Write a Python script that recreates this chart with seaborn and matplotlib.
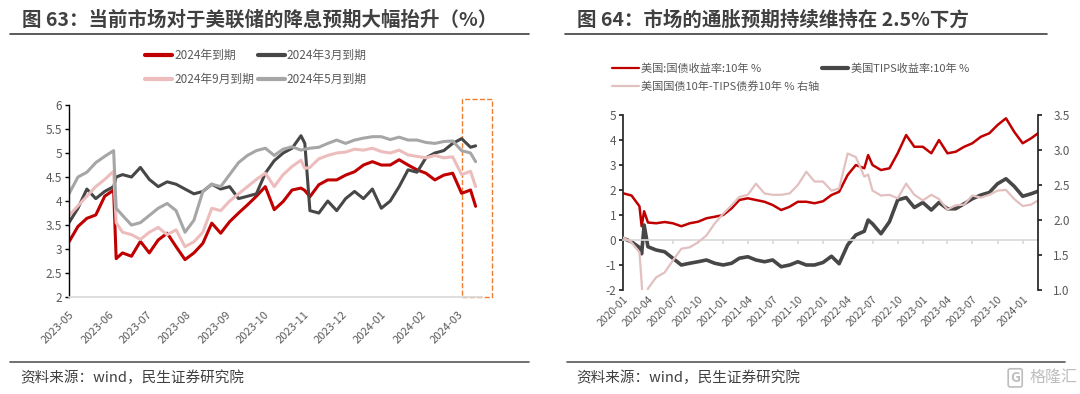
import pandas as pd
import seaborn as sns
import matplotlib.pyplot as plt
import matplotlib.dates as mdates
import matplotlib.transforms as mtransforms
from matplotlib.lines import Line2D
from matplotlib.patches import Rectangle
from matplotlib.ticker import MultipleLocator, FormatStrFormatter

# --- figure 63 data (weekly reads)
dates63 = ['2023-05-01', '2023-05-08', '2023-05-15', '2023-05-22', '2023-05-29', '2023-06-05',
           '2023-06-07', '2023-06-12', '2023-06-19', '2023-06-26', '2023-07-03', '2023-07-10',
           '2023-07-17', '2023-07-24', '2023-07-31', '2023-08-07', '2023-08-14', '2023-08-21',
           '2023-08-28', '2023-09-04', '2023-09-11', '2023-09-18', '2023-09-25', '2023-10-02',
           '2023-10-09', '2023-10-16', '2023-10-23', '2023-10-30', '2023-11-02', '2023-11-06',
           '2023-11-13', '2023-11-20', '2023-11-27', '2023-12-04', '2023-12-11', '2023-12-18',
           '2023-12-25', '2024-01-01', '2024-01-08', '2024-01-15', '2024-01-22', '2024-01-29',
           '2024-02-05', '2024-02-12', '2024-02-19', '2024-02-26', '2024-03-04', '2024-03-11',
           '2024-03-15']
exp_2024 = [3.15, 3.47, 3.64, 3.71, 4.10, 4.23, 2.80, 2.92, 2.85, 3.16, 2.92, 3.19, 3.33, 3.05,
            2.78, 2.92, 3.12, 3.54, 3.33, 3.57, 3.75, 3.92, 4.10, 4.30, 3.82, 3.99, 4.23, 4.27,
            4.22, 4.09, 4.34, 4.44, 4.44, 4.54, 4.61, 4.75, 4.82, 4.75, 4.75, 4.86, 4.75, 4.65,
            4.58, 4.44, 4.54, 4.58, 4.16, 4.23, 3.89]
exp_2403 = [3.55, 3.85, 4.25, 4.05, 4.20, 4.30, 4.50, 4.55, 4.50, 4.70, 4.45, 4.30, 4.40, 4.35,
            4.25, 4.15, 4.20, 4.35, 4.25, 4.30, 4.05, 4.10, 4.15, 4.58, 4.84, 5.00, 5.10, 5.36,
            5.20, 3.80, 3.75, 4.00, 3.80, 4.05, 4.20, 4.05, 4.25, 3.85, 4.00, 4.30, 4.65, 4.60,
            4.90, 5.00, 5.05, 5.20, 5.30, 5.12, 5.15]
exp_2409 = [3.70, 3.90, 4.10, 4.30, 4.45, 4.62, 3.55, 3.35, 3.30, 3.20, 3.35, 3.45, 3.30, 3.40,
            3.05, 3.15, 3.35, 3.85, 3.80, 4.00, 4.15, 4.30, 4.45, 4.58, 4.30, 4.55, 4.72, 4.85,
            4.68, 4.70, 4.88, 4.95, 5.00, 5.02, 5.08, 5.06, 5.10, 5.03, 5.00, 5.06, 4.96, 4.93,
            4.90, 4.95, 4.90, 4.92, 4.55, 4.62, 4.30]
exp_2405 = [4.15, 4.50, 4.60, 4.80, 4.93, 5.05, 3.85, 3.70, 3.50, 3.55, 3.70, 3.85, 3.95, 3.80,
            3.35, 3.60, 4.20, 4.35, 4.30, 4.55, 4.80, 4.95, 5.05, 5.10, 4.95, 5.08, 5.13, 5.06,
            5.08, 5.10, 5.12, 5.20, 5.27, 5.20, 5.27, 5.31, 5.34, 5.34, 5.28, 5.33, 5.27, 5.27,
            5.22, 5.20, 5.24, 5.25, 5.05, 5.00, 4.82]
labels63 = ['2024年到期', '2024年3月到期', '2024年9月到期', '2024年5月到期']
highlight63 = ('2024-03-04', '2024-03-28')

# --- figure 64 data (monthly reads)
dates64 = ['2020-01-01', '2020-02-01', '2020-03-01', '2020-03-09', '2020-03-18', '2020-04-01',
           '2020-05-01', '2020-06-01', '2020-07-01', '2020-08-01', '2020-09-01', '2020-10-01',
           '2020-11-01', '2020-12-01', '2021-01-01', '2021-02-01', '2021-03-01', '2021-04-01',
           '2021-05-01', '2021-06-01', '2021-07-01', '2021-08-01', '2021-09-01', '2021-10-01',
           '2021-11-01', '2021-12-01', '2022-01-01', '2022-02-01', '2022-03-01', '2022-04-01',
           '2022-05-01', '2022-06-01', '2022-06-15', '2022-07-01', '2022-08-01', '2022-09-01',
           '2022-10-01', '2022-11-01', '2022-12-01', '2023-01-01', '2023-02-01', '2023-03-01',
           '2023-04-01', '2023-05-01', '2023-06-01', '2023-07-01', '2023-08-01', '2023-09-01',
           '2023-10-01', '2023-11-01', '2023-12-01', '2024-01-01', '2024-02-01', '2024-02-26']
ust10 = [1.87, 1.78, 1.35, 0.55, 1.15, 0.70, 0.67, 0.72, 0.67, 0.55, 0.67, 0.73, 0.87, 0.93,
         1.00, 1.27, 1.60, 1.67, 1.60, 1.53, 1.40, 1.20, 1.33, 1.53, 1.53, 1.47, 1.55, 1.80,
         1.93, 2.60, 3.00, 2.87, 3.40, 3.00, 2.80, 2.87, 3.47, 4.20, 3.73, 3.73, 3.47, 4.00,
         3.47, 3.53, 3.73, 3.87, 4.13, 4.27, 4.60, 4.87, 4.33, 3.87, 4.07, 4.27]
tips10 = [0.07, -0.07, -0.30, -0.55, 0.60, -0.27, -0.40, -0.47, -0.73, -1.00, -0.93, -0.87,
          -0.80, -0.93, -1.00, -0.93, -0.73, -0.67, -0.80, -0.87, -0.80, -1.07, -1.00, -0.87,
          -1.00, -1.00, -0.90, -0.65, -0.95, -0.20, 0.20, 0.35, 0.80, 0.65, 0.25, 0.73, 1.60,
          1.70, 1.30, 1.50, 1.20, 1.50, 1.25, 1.25, 1.45, 1.65, 1.80, 1.90, 2.25, 2.45, 2.15,
          1.75, 1.85, 1.95]
breakeven = [1.75, 1.68, 1.54, 1.10, 0.55, 1.02, 1.18, 1.25, 1.42, 1.59, 1.61, 1.68, 1.78,
             1.95, 2.09, 2.21, 2.33, 2.36, 2.52, 2.38, 2.36, 2.36, 2.38, 2.50, 2.69, 2.55, 2.55,
             2.42, 2.45, 2.95, 2.90, 2.62, 2.65, 2.42, 2.35, 2.36, 2.31, 2.52, 2.36, 2.28, 2.36,
             2.30, 2.15, 2.21, 2.22, 2.35, 2.32, 2.36, 2.42, 2.43, 2.30, 2.20, 2.22, 2.28]
labels64 = ['美国:国债收益率:10年 %', '美国TIPS收益率:10年 %', '美国国债10年-TIPS债券10年 % 右轴']

RED = '#C00000'
DARK = '#474747'
PINK = '#EDBDBD'
LGRAY = '#A6A6A6'
TXT = '#595959'

sns.set_theme(style='white')
plt.rcParams['font.family'] = ['Noto Sans CJK SC', 'DejaVu Sans']
plt.rcParams['axes.unicode_minus'] = False

fig = plt.figure(figsize=(10.8, 3.94), dpi=100)
ax1 = fig.add_axes([0.0639, 0.246, 0.3824, 0.4875])
ax2 = fig.add_axes([0.5769, 0.264, 0.3842, 0.444])
axr = ax2.twinx()

# ---------------- left chart
df63 = pd.DataFrame({'date': pd.to_datetime(dates63), labels63[0]: exp_2024,
                     labels63[1]: exp_2403, labels63[2]: exp_2409, labels63[3]: exp_2405})
for lab, col in zip(labels63, [RED, DARK, PINK, LGRAY]):
    sns.lineplot(data=df63, x='date', y=lab, ax=ax1, color=col, lw=2.2)

ax1.set_ylim(2, 6)
ax1.yaxis.set_major_locator(MultipleLocator(0.5))
ax1.yaxis.set_major_formatter(FormatStrFormatter('%g'))
ax1.set_xlim(pd.Timestamp('2023-05-01'), pd.Timestamp('2024-03-20'))
ax1.xaxis.set_major_locator(mdates.MonthLocator())
ax1.xaxis.set_major_formatter(mdates.DateFormatter('%Y-%m'))
ax1.set_xlabel('')
ax1.set_ylabel('')
for s in ['top', 'right']:
    ax1.spines[s].set_visible(False)
ax1.spines['left'].set_color('#000000')
ax1.spines['left'].set_linewidth(1)
ax1.spines['bottom'].set_color('#D9D9D9')
ax1.tick_params(axis='y', left=True, length=3, width=1, color='#000000', labelsize=8.5,
                labelcolor=TXT, pad=2)
ax1.tick_params(axis='x', bottom=False, labelsize=8, labelcolor=TXT, pad=3)
for t in ax1.get_xticklabels():
    t.set_rotation(45)
    t.set_ha('right')
    t.set_rotation_mode('anchor')

# dashed highlight box over the latest weeks
hx0 = mdates.date2num(pd.Timestamp(highlight63[0]))
hx1 = mdates.date2num(pd.Timestamp(highlight63[1]))
trans = mtransforms.blended_transform_factory(ax1.transData, ax1.transAxes)
ax1.add_patch(Rectangle((hx0, 0), hx1 - hx0, 1.031, transform=trans, fill=False,
                        ec='#ED7D31', ls='--', lw=1, clip_on=False))

h63 = [Line2D([], [], color=c, lw=3) for c in [RED, PINK, DARK, LGRAY]]
fig.legend(h63, [labels63[0], labels63[2], labels63[1], labels63[3]], ncol=2, loc='center',
           bbox_to_anchor=(0.237, 0.828), frameon=False, fontsize=8.5, labelcolor=TXT,
           handlelength=2.3, handletextpad=0.15, columnspacing=0.3, labelspacing=0.95)

# ---------------- right chart
df64 = pd.DataFrame({'date': pd.to_datetime(dates64), 'ust': ust10, 'tips': tips10,
                     'bei': breakeven})
sns.lineplot(data=df64, x='date', y='ust', ax=ax2, color=RED, lw=1.8)
sns.lineplot(data=df64, x='date', y='tips', ax=ax2, color=DARK, lw=2.6)
sns.lineplot(data=df64, x='date', y='bei', ax=axr, color='#E2C0C0', lw=1.6)

ax2.set_ylim(-2, 5)
ax2.yaxis.set_major_locator(MultipleLocator(1))
axr.set_ylim(1.0, 3.5)
axr.yaxis.set_major_locator(MultipleLocator(0.5))
axr.yaxis.set_major_formatter(FormatStrFormatter('%.1f'))
ax2.set_xlim(pd.Timestamp('2020-01-01'), pd.Timestamp('2024-02-26'))
ax2.xaxis.set_major_locator(mdates.MonthLocator(bymonth=[1, 4, 7, 10]))
ax2.xaxis.set_major_formatter(mdates.DateFormatter('%Y-%m'))
for a in [ax2, axr]:
    a.set_xlabel('')
    a.set_ylabel('')
    a.spines['top'].set_visible(False)
ax2.spines['right'].set_visible(False)
axr.spines['left'].set_visible(False)
axr.spines['bottom'].set_visible(False)
ax2.spines['left'].set_color('#262626')
axr.spines['right'].set_color('#262626')
ax2.spines['bottom'].set_position(('data', 0))
ax2.spines['bottom'].set_color('#D9D9D9')
ax2.tick_params(axis='y', left=True, length=3, color='#262626', labelsize=8.5,
                labelcolor=TXT, pad=2)
axr.tick_params(axis='y', right=True, length=3, color='#262626', labelsize=8.5,
                labelcolor=TXT, pad=8)
ax2.tick_params(axis='x', bottom=True, length=3, color='#D9D9D9', labelsize=7.5,
                labelcolor=TXT, pad=36)
for t in ax2.get_xticklabels():
    t.set_rotation(45)
    t.set_ha('right')
    t.set_rotation_mode('anchor')

h64 = [Line2D([], [], color=RED, lw=1.6), Line2D([], [], color='#E2C0C0', lw=1.6),
       Line2D([], [], color=DARK, lw=3)]
fig.legend(h64, [labels64[0], labels64[2], labels64[1]], ncol=2, loc='center',
           bbox_to_anchor=(0.732, 0.803), frameon=False, fontsize=8, labelcolor=TXT,
           handlelength=2.4, handletextpad=0.2, columnspacing=0.2, labelspacing=0.7)

# ---------------- titles, rules, sources
fig.text(0.0204, 0.949, '图 63：当前市场对于美联储的降息预期大幅抬升（%）', fontsize=14,
         fontweight='bold', color='#404040', va='center')
fig.text(0.534, 0.949, '图 64：市场的通胀预期持续维持在 2.5%下方', fontsize=14,
         fontweight='bold', color='#404040', va='center')
for x0, x1 in [(0.0093, 0.49), (0.523, 0.969)]:
    fig.add_artist(Line2D([x0, x1], [0.914, 0.914], color='#404040', lw=1.2))
for x0, x1 in [(0.0093, 0.49), (0.525, 0.986)]:
    fig.add_artist(Line2D([x0, x1], [0.081, 0.081], color='#595959', lw=1.2))
fig.text(0.019, 0.041, '资料来源：wind，民生证券研究院', fontsize=10.5, color='#404040',
         va='center')
fig.text(0.534, 0.041, '资料来源：wind，民生证券研究院', fontsize=10.5, color='#404040',
         va='center')
fig.text(0.94, 0.041, 'G', fontsize=10, color='#BDBDBD', va='center', ha='center',
         fontweight='bold',
         bbox=dict(boxstyle='round,pad=0.15', fc='white', ec='#BDBDBD', lw=1.2))
fig.text(0.953, 0.041, '格隆汇', fontsize=11.5, color='#BDBDBD', va='center')

fig.savefig('out.png', dpi=100)
